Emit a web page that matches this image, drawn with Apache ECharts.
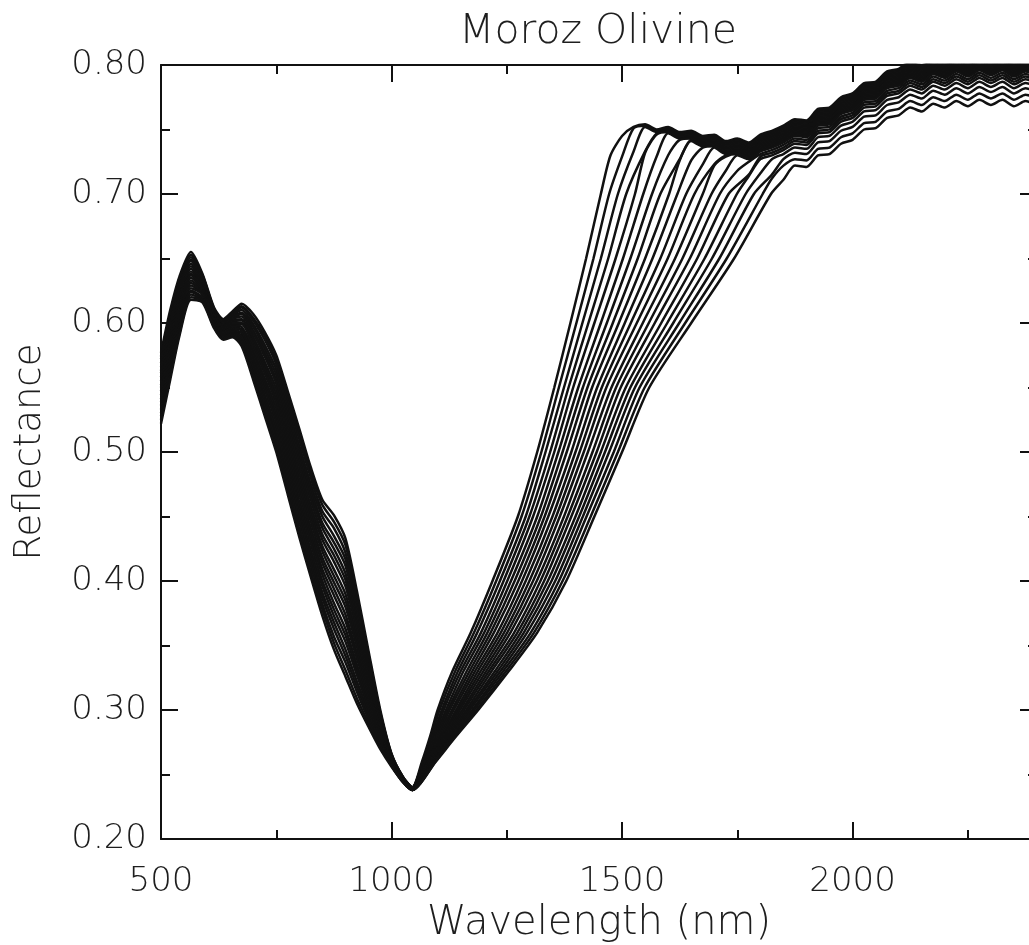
<!DOCTYPE html>
<html>
<head>
<meta charset="utf-8">
<script src="https://cdn.jsdelivr.net/npm/echarts@6/dist/echarts.min.js"></script>
<style>
html,body{margin:0;padding:0;background:#fff;}
#chart{width:1029px;height:945px;}
</style>
</head>
<body>
<div id="chart"></div>
<script>
// ---------------- data ----------------
const chartTitle = 'Moroz Olivine';
const xName = 'Wavelength (nm)';
const yName = 'Reflectance';

// visible part of the spectra (shared wavelength grid, nm)
const wlLeft = [500,520,540,565,590,615,635,655,675,700,725,750,775,800,825,850,875,900,925,950,975,1000,1025,1045];
const left0  = [0.577,0.610,0.636,0.655,0.638,0.612,0.603,0.609,0.615,0.607,0.593,0.575,0.547,0.518,0.488,0.463,0.451,0.433,0.392,0.346,0.301,0.266,0.248,0.240];
const left1  = [0.574,0.607,0.634,0.653,0.637,0.611,0.602,0.608,0.613,0.604,0.590,0.571,0.543,0.514,0.484,0.459,0.446,0.428,0.388,0.343,0.299,0.266,0.248,0.240];
const left2  = [0.572,0.605,0.631,0.651,0.636,0.610,0.601,0.607,0.612,0.602,0.587,0.568,0.539,0.510,0.480,0.454,0.441,0.422,0.383,0.340,0.298,0.265,0.248,0.240];
const left3  = [0.569,0.602,0.629,0.649,0.635,0.610,0.601,0.606,0.610,0.599,0.583,0.564,0.535,0.505,0.475,0.450,0.435,0.417,0.379,0.337,0.296,0.265,0.247,0.240];
const left4  = [0.566,0.599,0.627,0.648,0.634,0.609,0.600,0.605,0.608,0.597,0.580,0.560,0.531,0.501,0.471,0.445,0.430,0.412,0.375,0.334,0.295,0.264,0.247,0.240];
const left5  = [0.563,0.597,0.625,0.646,0.633,0.608,0.599,0.604,0.607,0.594,0.577,0.556,0.527,0.497,0.467,0.441,0.425,0.406,0.370,0.331,0.293,0.264,0.247,0.240];
const left6  = [0.561,0.594,0.622,0.644,0.631,0.607,0.598,0.603,0.605,0.592,0.574,0.553,0.523,0.493,0.463,0.436,0.420,0.401,0.366,0.328,0.292,0.263,0.247,0.240];
const left7  = [0.558,0.591,0.620,0.642,0.630,0.606,0.597,0.602,0.603,0.589,0.570,0.549,0.519,0.489,0.458,0.432,0.415,0.396,0.362,0.325,0.290,0.263,0.247,0.239];
const left8  = [0.555,0.588,0.618,0.640,0.629,0.606,0.597,0.601,0.602,0.587,0.567,0.545,0.515,0.484,0.454,0.427,0.409,0.390,0.357,0.322,0.289,0.262,0.246,0.239];
const left9  = [0.552,0.586,0.615,0.638,0.628,0.605,0.596,0.600,0.600,0.584,0.564,0.541,0.511,0.480,0.450,0.423,0.404,0.385,0.353,0.319,0.287,0.262,0.246,0.239];
const left10 = [0.550,0.583,0.613,0.637,0.627,0.604,0.595,0.599,0.599,0.582,0.561,0.538,0.507,0.476,0.446,0.418,0.399,0.380,0.349,0.316,0.286,0.261,0.246,0.239];
const left11 = [0.547,0.580,0.611,0.635,0.626,0.603,0.594,0.598,0.597,0.579,0.557,0.534,0.503,0.472,0.441,0.414,0.394,0.374,0.344,0.314,0.284,0.261,0.246,0.239];
const left12 = [0.544,0.578,0.608,0.633,0.625,0.602,0.593,0.597,0.595,0.576,0.554,0.530,0.499,0.468,0.437,0.409,0.389,0.369,0.340,0.311,0.282,0.260,0.246,0.239];
const left13 = [0.541,0.575,0.606,0.631,0.624,0.602,0.593,0.596,0.594,0.574,0.551,0.526,0.495,0.463,0.433,0.405,0.383,0.363,0.335,0.308,0.281,0.260,0.245,0.239];
const left14 = [0.539,0.572,0.604,0.629,0.623,0.601,0.592,0.595,0.592,0.571,0.548,0.523,0.491,0.459,0.429,0.400,0.378,0.358,0.331,0.305,0.279,0.259,0.245,0.238];
const left15 = [0.536,0.570,0.602,0.627,0.622,0.600,0.591,0.594,0.590,0.569,0.544,0.519,0.487,0.455,0.424,0.396,0.373,0.353,0.327,0.302,0.278,0.259,0.245,0.238];
const left16 = [0.533,0.567,0.599,0.625,0.620,0.599,0.590,0.593,0.589,0.566,0.541,0.515,0.483,0.451,0.420,0.391,0.368,0.347,0.322,0.299,0.276,0.258,0.245,0.238];
const left17 = [0.530,0.564,0.597,0.624,0.619,0.598,0.589,0.592,0.587,0.564,0.538,0.511,0.479,0.447,0.416,0.387,0.363,0.342,0.318,0.296,0.275,0.258,0.245,0.238];
const left18 = [0.528,0.561,0.595,0.622,0.618,0.598,0.589,0.591,0.585,0.561,0.535,0.508,0.475,0.442,0.412,0.382,0.357,0.337,0.314,0.293,0.273,0.257,0.244,0.238];
const left19 = [0.525,0.559,0.592,0.620,0.617,0.597,0.588,0.590,0.584,0.559,0.531,0.504,0.471,0.438,0.407,0.378,0.352,0.331,0.309,0.290,0.272,0.257,0.244,0.238];
const left20 = [0.522,0.556,0.590,0.618,0.616,0.596,0.587,0.589,0.582,0.556,0.528,0.500,0.467,0.434,0.403,0.373,0.347,0.326,0.305,0.287,0.270,0.256,0.244,0.238];

// near-infrared rise: wavelength (nm) at which each spectrum crosses these reflectance levels
const rampR  = [0.26,0.28,0.30,0.33,0.36,0.40,0.45,0.50,0.55,0.60,0.65,0.70];
const ramp0  = [1066,1084,1100,1132,1172,1219,1274,1316,1353,1388,1422,1454];
const ramp1  = [1068,1087,1104,1138,1179,1227,1282,1325,1363,1401,1438,1472];
const ramp2  = [1069,1090,1109,1144,1186,1235,1291,1334,1374,1414,1454,1491];
const ramp3  = [1071,1093,1113,1150,1194,1243,1299,1344,1384,1427,1470,1509];
const ramp4  = [1072,1095,1118,1156,1201,1251,1307,1353,1394,1440,1486,1528];
const ramp5  = [1074,1098,1122,1163,1208,1259,1316,1362,1405,1454,1502,1546];
const ramp6  = [1075,1101,1126,1169,1215,1267,1324,1371,1415,1467,1518,1565];
const ramp7  = [1077,1104,1131,1175,1222,1275,1332,1380,1425,1480,1534,1583];
const ramp8  = [1078,1107,1135,1181,1230,1283,1340,1390,1435,1493,1550,1602];
const ramp9  = [1080,1110,1140,1187,1237,1291,1349,1399,1446,1506,1566,1620];
const ramp10 = [1081,1113,1144,1193,1244,1299,1357,1408,1456,1519,1583,1639];
const ramp11 = [1083,1115,1148,1199,1251,1307,1365,1417,1466,1532,1599,1657];
const ramp12 = [1084,1118,1153,1205,1258,1315,1374,1426,1477,1545,1615,1675];
const ramp13 = [1086,1121,1157,1211,1266,1323,1382,1436,1487,1558,1631,1694];
const ramp14 = [1087,1124,1162,1217,1273,1331,1390,1445,1497,1571,1647,1712];
const ramp15 = [1089,1127,1166,1224,1280,1339,1399,1454,1508,1585,1663,1731];
const ramp16 = [1090,1130,1170,1230,1287,1347,1407,1463,1518,1598,1679,1749];
const ramp17 = [1092,1132,1175,1236,1294,1355,1415,1472,1528,1611,1695,1768];
const ramp18 = [1093,1135,1179,1242,1302,1363,1423,1482,1538,1624,1711,1786];
const ramp19 = [1095,1138,1184,1248,1309,1371,1432,1491,1549,1637,1727,1805];
const ramp20 = [1096,1141,1188,1254,1316,1379,1440,1500,1559,1650,1743,1823];

// noisy plateau: shared wavelength grid; each spectrum starts at its own wavelength
const bandWl = [1475,1500,1525,1550,1575,1600,1625,1650,1675,1700,1725,1750,1775,1800,1825,1850,1875,1900,1925,1950,1975,2000,2025,2050,2075,2100,2125,2150,2175,2200,2225,2250,2275,2300,2325,2350,2375,2400];
const bandStart = [1475,1500,1525,1550,1550,1575,1600,1625,1625,1650,1675,1700,1700,1725,1750,1775,1775,1800,1825,1825,1850];
const band0  = [0.730,0.745,0.752,0.754,0.750,0.752,0.748,0.749,0.745,0.746,0.741,0.743,0.740,0.746,0.749,0.753,0.758,0.757,0.766,0.767,0.775,0.778,0.786,0.787,0.795,0.797,0.803,0.800,0.806,0.803,0.808,0.804,0.809,0.805,0.809,0.804,0.808,0.805];
const band1  = [0.729,0.751,0.753,0.749,0.751,0.747,0.748,0.744,0.745,0.740,0.742,0.739,0.745,0.748,0.752,0.757,0.756,0.765,0.766,0.774,0.777,0.785,0.786,0.794,0.796,0.802,0.799,0.805,0.802,0.807,0.803,0.808,0.804,0.808,0.803,0.807,0.804];
const band2  = [0.733,0.752,0.748,0.750,0.746,0.747,0.743,0.744,0.739,0.741,0.738,0.744,0.747,0.751,0.756,0.755,0.764,0.765,0.773,0.776,0.784,0.785,0.793,0.795,0.801,0.798,0.804,0.801,0.806,0.802,0.807,0.803,0.807,0.802,0.806,0.803];
const band3  = [0.733,0.747,0.749,0.745,0.746,0.742,0.743,0.738,0.740,0.737,0.743,0.746,0.750,0.755,0.754,0.763,0.764,0.772,0.775,0.783,0.784,0.792,0.794,0.800,0.797,0.803,0.800,0.805,0.801,0.806,0.802,0.806,0.801,0.805,0.802];
const band4  = [0.732,0.746,0.748,0.744,0.745,0.741,0.742,0.737,0.739,0.736,0.742,0.745,0.749,0.754,0.753,0.762,0.763,0.771,0.774,0.782,0.783,0.791,0.793,0.799,0.796,0.802,0.799,0.804,0.800,0.805,0.801,0.805,0.800,0.804,0.801];
const band5  = [0.729,0.747,0.743,0.744,0.740,0.741,0.736,0.738,0.735,0.741,0.744,0.748,0.753,0.752,0.761,0.762,0.770,0.773,0.781,0.782,0.790,0.792,0.798,0.795,0.801,0.798,0.803,0.799,0.804,0.800,0.804,0.799,0.803,0.800];
const band6  = [0.730,0.742,0.743,0.739,0.740,0.735,0.737,0.734,0.740,0.743,0.747,0.752,0.751,0.760,0.761,0.769,0.772,0.780,0.781,0.789,0.791,0.797,0.794,0.800,0.797,0.802,0.798,0.803,0.799,0.803,0.798,0.802,0.799];
const band7  = [0.727,0.742,0.738,0.739,0.734,0.736,0.733,0.739,0.742,0.746,0.751,0.750,0.759,0.760,0.768,0.771,0.779,0.780,0.788,0.790,0.796,0.793,0.799,0.796,0.801,0.797,0.802,0.798,0.802,0.797,0.801,0.798];
const band8  = [0.726,0.741,0.737,0.738,0.733,0.735,0.732,0.738,0.741,0.745,0.750,0.749,0.758,0.759,0.767,0.770,0.778,0.779,0.787,0.789,0.795,0.792,0.798,0.795,0.800,0.796,0.801,0.797,0.801,0.796,0.800,0.797];
const band9  = [0.726,0.736,0.737,0.732,0.734,0.731,0.737,0.740,0.744,0.749,0.748,0.757,0.758,0.766,0.769,0.777,0.778,0.786,0.788,0.794,0.791,0.797,0.794,0.799,0.795,0.800,0.796,0.800,0.795,0.799,0.796];
const band10 = [0.723,0.736,0.731,0.733,0.730,0.736,0.739,0.743,0.748,0.747,0.756,0.757,0.765,0.768,0.776,0.777,0.785,0.787,0.793,0.790,0.796,0.793,0.798,0.794,0.799,0.795,0.799,0.794,0.798,0.795];
const band11 = [0.723,0.730,0.732,0.729,0.735,0.738,0.742,0.747,0.746,0.755,0.756,0.764,0.767,0.775,0.776,0.784,0.786,0.792,0.789,0.795,0.792,0.797,0.793,0.798,0.794,0.798,0.793,0.797,0.794];
const band12 = [0.722,0.729,0.731,0.728,0.734,0.737,0.741,0.746,0.745,0.754,0.755,0.763,0.766,0.774,0.775,0.783,0.785,0.791,0.788,0.794,0.791,0.796,0.792,0.797,0.793,0.797,0.792,0.796,0.793];
const band13 = [0.718,0.730,0.727,0.733,0.736,0.740,0.745,0.744,0.753,0.754,0.762,0.765,0.773,0.774,0.782,0.784,0.790,0.787,0.793,0.790,0.795,0.791,0.796,0.792,0.796,0.791,0.795,0.792];
const band14 = [0.718,0.725,0.731,0.734,0.738,0.743,0.742,0.751,0.752,0.760,0.763,0.771,0.772,0.780,0.782,0.788,0.785,0.791,0.788,0.793,0.789,0.794,0.790,0.794,0.789,0.793,0.790];
const band15 = [0.715,0.729,0.732,0.736,0.741,0.740,0.749,0.750,0.758,0.761,0.769,0.770,0.778,0.780,0.786,0.783,0.789,0.786,0.791,0.787,0.792,0.788,0.792,0.787,0.791,0.788];
const band16 = [0.714,0.727,0.730,0.734,0.739,0.738,0.747,0.748,0.756,0.759,0.767,0.768,0.776,0.778,0.784,0.781,0.787,0.784,0.789,0.785,0.790,0.786,0.790,0.785,0.789,0.786];
const band17 = [0.716,0.727,0.731,0.736,0.735,0.744,0.745,0.753,0.756,0.764,0.765,0.773,0.775,0.781,0.778,0.784,0.781,0.786,0.782,0.787,0.783,0.787,0.782,0.786,0.783];
const band18 = [0.715,0.727,0.732,0.731,0.740,0.741,0.749,0.752,0.760,0.761,0.769,0.771,0.777,0.774,0.780,0.777,0.782,0.778,0.783,0.779,0.783,0.778,0.782,0.779];
const band19 = [0.712,0.722,0.727,0.726,0.735,0.736,0.744,0.747,0.755,0.756,0.764,0.766,0.772,0.769,0.775,0.772,0.777,0.773,0.778,0.774,0.778,0.773,0.777,0.774];
const band20 = [0.711,0.722,0.721,0.730,0.731,0.739,0.742,0.750,0.751,0.759,0.761,0.767,0.764,0.770,0.767,0.772,0.768,0.773,0.769,0.773,0.768,0.772,0.769];

// axes
const xMin = 500, xMax = 2400, xMajor = 500, xMinor = 250;
const yMin = 0.2, yMax = 0.8, yMajor = 0.1, yMinor = 0.05;

// ---------------- build ----------------
const LEFT = [left0,left1,left2,left3,left4,left5,left6,left7,left8,left9,left10,left11,left12,left13,left14,left15,left16,left17,left18,left19,left20];
const RAMP = [ramp0,ramp1,ramp2,ramp3,ramp4,ramp5,ramp6,ramp7,ramp8,ramp9,ramp10,ramp11,ramp12,ramp13,ramp14,ramp15,ramp16,ramp17,ramp18,ramp19,ramp20];
const BAND = [band0,band1,band2,band3,band4,band5,band6,band7,band8,band9,band10,band11,band12,band13,band14,band15,band16,band17,band18,band19,band20];

const INK = '#111';
const TXT = '#1e1e1e';
const FONT = 'DejaVu Sans';

const series = LEFT.map((lv, i) => {
  const data = [];
  wlLeft.forEach((w, k) => data.push([w, lv[k]]));
  RAMP[i].forEach((w, k) => data.push([w, rampR[k]]));
  const s0 = bandWl.indexOf(bandStart[i]);
  BAND[i].forEach((v, k) => data.push([bandWl[s0 + k], v]));
  return {
    type: 'line', data, xAxisIndex: 0, yAxisIndex: 0,
    showSymbol: false, symbol: 'none', smooth: 0.25, silent: true,
    lineStyle: { color: INK, width: 2.5 }, clip: true, z: 2
  };
});

function xAx(pos, interval, len, labels, line, extra) {
  return Object.assign({
    type: 'value', position: pos, min: xMin, max: xMax, interval,
    axisLine: { show: line, lineStyle: { color: INK, width: 2 } },
    axisTick: { show: true, inside: true, length: len, lineStyle: { color: INK, width: 2 } },
    axisLabel: { show: labels, margin: 26, color: TXT, fontFamily: FONT, fontSize: 34, fontWeight: 200,
                 showMaxLabel: false, formatter: v => String(v) },
    splitLine: { show: false }
  }, extra || {});
}
function yAx(pos, interval, len, labels, line, extra) {
  return Object.assign({
    type: 'value', position: pos, min: yMin, max: yMax, interval,
    axisLine: { show: line, lineStyle: { color: INK, width: 2 } },
    axisTick: { show: true, inside: true, length: len, lineStyle: { color: INK, width: 2 } },
    axisLabel: { show: labels, margin: 14, color: TXT, fontFamily: FONT, fontSize: 34, fontWeight: 200,
                 formatter: v => v.toFixed(2) },
    splitLine: { show: false }
  }, extra || {});
}

const option = {
  animation: false,
  backgroundColor: '#fff',
  title: {
    text: chartTitle, left: 593, top: 7, textAlign: 'center',
    textStyle: { fontFamily: FONT, fontSize: 41, fontWeight: 200, color: TXT }
  },
  grid: { left: 161, top: 65, right: -8, bottom: 106, containLabel: false, outerBoundsMode: 'none' },
  xAxis: [
    xAx('bottom', xMajor, 17, true, true, {
      name: xName, nameLocation: 'middle', nameGap: 46,
      nameTextStyle: { fontFamily: FONT, fontSize: 40, fontWeight: 200, color: TXT }
    }),
    xAx('bottom', xMinor, 9, false, false),
    xAx('top', xMajor, 17, false, true),
    xAx('top', xMinor, 9, false, false)
  ],
  yAxis: [
    yAx('left', yMajor, 17, true, true, {
      name: yName, nameLocation: 'middle', nameGap: 112, nameRotate: 90,
      nameTextStyle: { fontFamily: FONT, fontSize: 37, fontWeight: 200, color: TXT }
    }),
    yAx('left', yMinor, 9, false, false),
    yAx('right', yMajor, 17, false, true),
    yAx('right', yMinor, 9, false, false)
  ],
  series
};

const chart = echarts.init(document.getElementById('chart'), null, { renderer: 'canvas' });
chart.setOption(option);
</script>
</body>
</html>
